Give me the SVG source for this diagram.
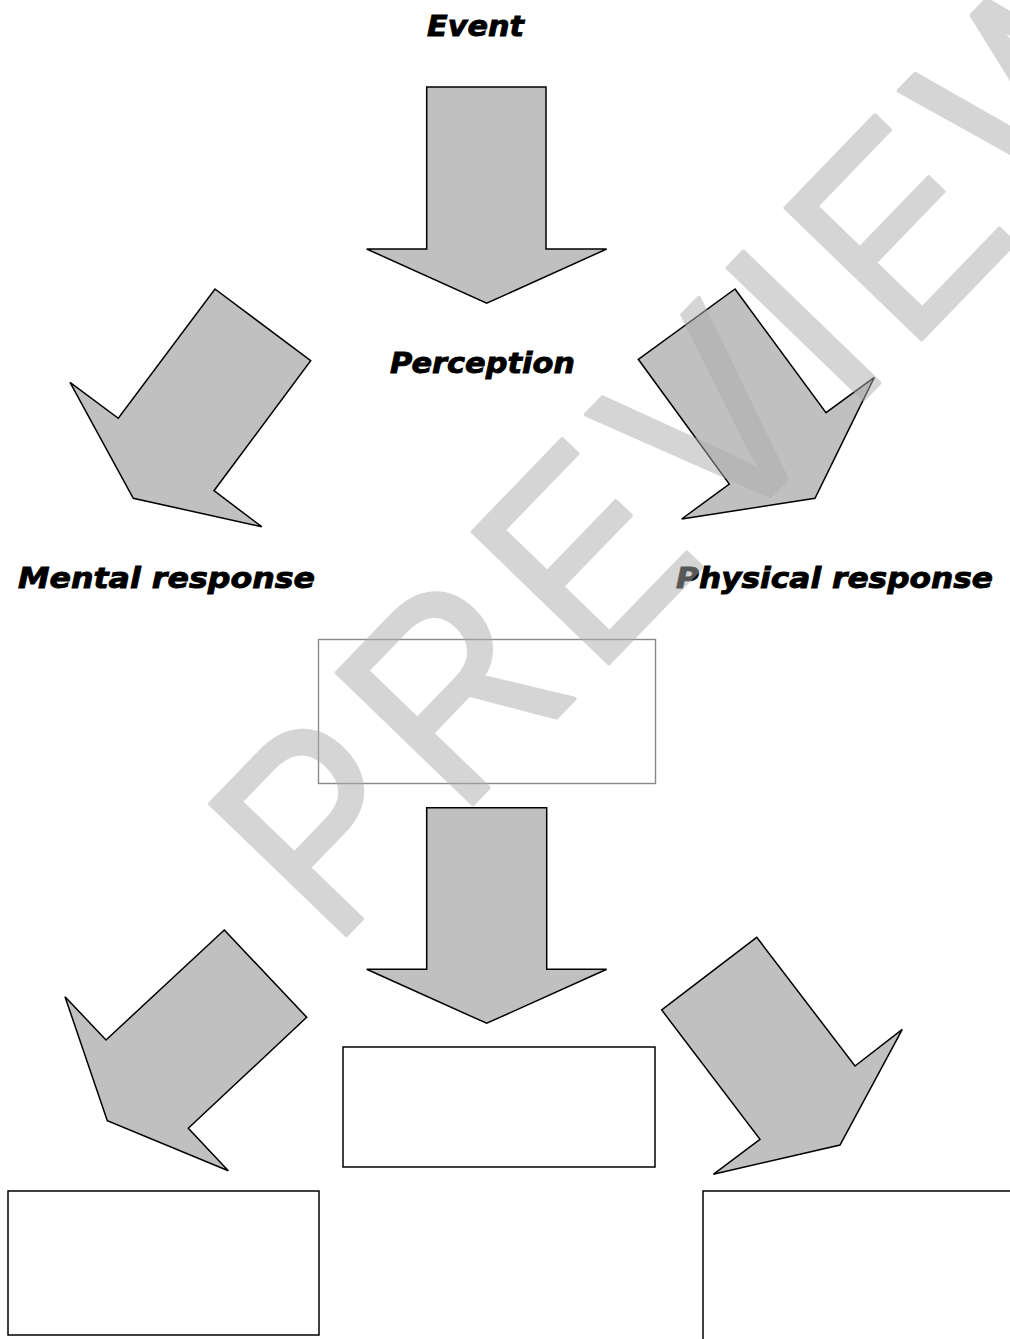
<svg xmlns="http://www.w3.org/2000/svg" width="1010" height="1339" viewBox="0 0 1010 1339">
<style>
.arrow{fill:#c0c0c0;stroke:#000;stroke-width:1.5;stroke-linejoin:miter}
.box{fill:#fff;stroke:#000;stroke-width:1.5}
.box-gray{fill:#fff;stroke:#8a8a8a;stroke-width:1.4}
.label{font-family:"DejaVu Sans","Liberation Sans",sans-serif;font-weight:bold;font-style:italic;font-size:29px;fill:#000;stroke:#000;stroke-width:0.9}
.wm{font-family:"Liberation Sans",Arial,sans-serif;font-size:275px;letter-spacing:19px;fill:#adadad;stroke:#adadad;stroke-width:4;stroke-linejoin:round}
</style>
<rect x="0" y="0" width="1010" height="1339" fill="#fff"/>
<g id="connectors">
<polygon id="arrow-down-1" class="arrow" points="426.7,87 546,87 546,249 606.7,249 486.7,303.3 366.7,249 426.7,249"/>
<polygon id="arrow-left-1" class="arrow" points="215,289 310.7,360.7 214,490.7 261.7,526.7 133.3,498.3 70,382.3 118.3,418.3"/>
<polygon id="arrow-right-1" class="arrow" points="735,289 826,412.7 874.3,377.3 815,498.3 681.7,519 729.3,484 638.3,359.3"/>
<polygon id="arrow-down-2" class="arrow" points="426.7,807.7 546.7,807.7 546.7,969.3 606.7,969.3 486.7,1023.3 366.7,969.3 426.7,969.3"/>
<polygon id="arrow-left-2" class="arrow" points="224.3,930 306.7,1017.3 188.3,1128.3 228.3,1170.7 107.3,1120.7 65,996.7 106,1040"/>
<polygon id="arrow-right-2" class="arrow" points="756.7,937.3 855,1066 902.3,1029.3 840,1145 713.3,1174.3 760,1139.3 661.7,1010"/>
</g>
<g id="node-event"><text class="label" x="427" y="36" textLength="97" lengthAdjust="spacingAndGlyphs">Event</text></g>
<g id="node-perception"><text class="label" x="390" y="373" textLength="185" lengthAdjust="spacingAndGlyphs">Perception</text></g>
<g id="node-mental"><text class="label" x="18" y="588" textLength="297" lengthAdjust="spacingAndGlyphs">Mental response</text></g>
<g id="node-physical"><text class="label" x="676" y="588" textLength="317" lengthAdjust="spacingAndGlyphs">Physical response</text></g>
<g id="node-box-top"><rect class="box-gray" x="318.5" y="639.5" width="337" height="144"/></g>
<g id="node-box-middle"><rect class="box" x="343" y="1047" width="312" height="120"/></g>
<g id="node-box-left"><rect class="box" x="8" y="1191" width="311" height="144"/></g>
<g id="node-box-right"><rect class="box" x="703" y="1191" width="330" height="170"/></g>
<g id="watermark" opacity="0.5" transform="translate(357,924) rotate(-46) scale(0.9,1)">
<text class="wm" x="-40" y="0">PREVIEW</text>
</g>
</svg>
